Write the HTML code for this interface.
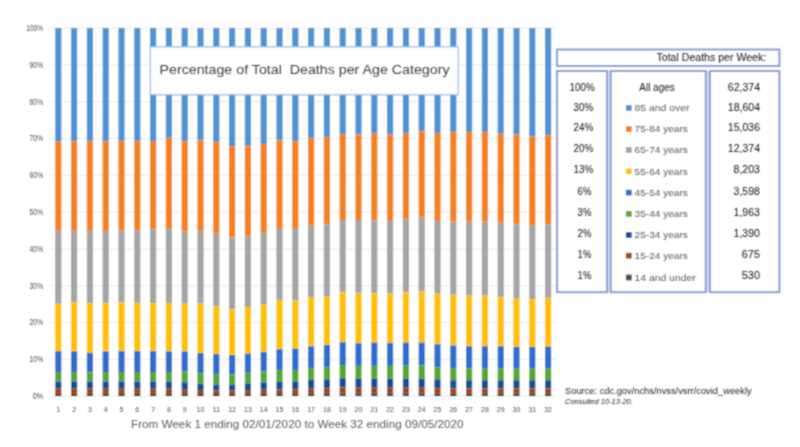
<!DOCTYPE html>
<html lang="en"><head><meta charset="utf-8"><title>Percentage of Total Deaths per Age Category</title>
<style>html,body{margin:0;padding:0;background:#fff;overflow:hidden}svg{display:block}text{font-family:"Liberation Sans",sans-serif}</style></head><body>
<svg width="800" height="447" viewBox="0 0 800 447">
<defs><filter id="soft" x="0" y="0" width="800" height="447" filterUnits="userSpaceOnUse"><feGaussianBlur stdDeviation="0.8"/></filter>
<filter id="tsoft" x="0" y="0" width="800" height="447" filterUnits="userSpaceOnUse"><feConvolveMatrix order="3" kernelMatrix="1 2 1 2 6 2 1 2 1" divisor="18" edgeMode="duplicate" preserveAlpha="false"/></filter></defs>
<rect x="0" y="0" width="800" height="447" fill="#ffffff"/>
<g filter="url(#tsoft)">
<rect x="-5" y="-5" width="810" height="457" fill="#ffffff"/>
<g stroke="#e6e6e6" stroke-width="0.9">
<line x1="50" y1="396.10" x2="556" y2="396.10"/>
<line x1="50" y1="359.29" x2="556" y2="359.29"/>
<line x1="50" y1="322.48" x2="556" y2="322.48"/>
<line x1="50" y1="285.67" x2="556" y2="285.67"/>
<line x1="50" y1="248.86" x2="556" y2="248.86"/>
<line x1="50" y1="212.05" x2="556" y2="212.05"/>
<line x1="50" y1="175.24" x2="556" y2="175.24"/>
<line x1="50" y1="138.43" x2="556" y2="138.43"/>
<line x1="50" y1="101.62" x2="556" y2="101.62"/>
<line x1="50" y1="64.81" x2="556" y2="64.81"/>
<line x1="50" y1="28.00" x2="556" y2="28.00"/>
</g>
<g>
<rect x="55.20" y="28.00" width="6.2" height="113.56" fill="#4f92d6"/>
<rect x="55.20" y="141.56" width="6.2" height="89.30" fill="#f4811f"/>
<rect x="55.20" y="230.86" width="6.2" height="72.91" fill="#a5a5a5"/>
<rect x="55.20" y="303.77" width="6.2" height="47.37" fill="#ffc000"/>
<rect x="55.20" y="351.14" width="6.2" height="20.84" fill="#2f6dd0"/>
<rect x="55.20" y="371.98" width="6.2" height="9.56" fill="#5aa530"/>
<rect x="55.20" y="381.54" width="6.2" height="7.17" fill="#0f4f98"/>
<rect x="55.20" y="388.70" width="6.2" height="5.14" fill="#a5450a"/>
<rect x="55.20" y="393.85" width="6.2" height="2.25" fill="#3d3530"/>
<rect x="71.00" y="28.00" width="6.2" height="113.19" fill="#4f92d6"/>
<rect x="71.00" y="141.19" width="6.2" height="89.67" fill="#f4811f"/>
<rect x="71.00" y="230.86" width="6.2" height="71.30" fill="#a5a5a5"/>
<rect x="71.00" y="302.16" width="6.2" height="49.24" fill="#ffc000"/>
<rect x="71.00" y="351.40" width="6.2" height="20.58" fill="#2f6dd0"/>
<rect x="71.00" y="371.98" width="6.2" height="9.56" fill="#5aa530"/>
<rect x="71.00" y="381.54" width="6.2" height="7.17" fill="#0f4f98"/>
<rect x="71.00" y="388.70" width="6.2" height="5.14" fill="#a5450a"/>
<rect x="71.00" y="393.85" width="6.2" height="2.25" fill="#3d3530"/>
<rect x="86.80" y="28.00" width="6.2" height="112.82" fill="#4f92d6"/>
<rect x="86.80" y="140.82" width="6.2" height="90.04" fill="#f4811f"/>
<rect x="86.80" y="230.86" width="6.2" height="72.40" fill="#a5a5a5"/>
<rect x="86.80" y="303.26" width="6.2" height="49.61" fill="#ffc000"/>
<rect x="86.80" y="352.87" width="6.2" height="19.66" fill="#2f6dd0"/>
<rect x="86.80" y="372.53" width="6.2" height="9.00" fill="#5aa530"/>
<rect x="86.80" y="381.54" width="6.2" height="7.17" fill="#0f4f98"/>
<rect x="86.80" y="388.70" width="6.2" height="5.14" fill="#a5450a"/>
<rect x="86.80" y="393.85" width="6.2" height="2.25" fill="#3d3530"/>
<rect x="102.60" y="28.00" width="6.2" height="113.19" fill="#4f92d6"/>
<rect x="102.60" y="141.19" width="6.2" height="89.67" fill="#f4811f"/>
<rect x="102.60" y="230.86" width="6.2" height="72.40" fill="#a5a5a5"/>
<rect x="102.60" y="303.26" width="6.2" height="48.14" fill="#ffc000"/>
<rect x="102.60" y="351.40" width="6.2" height="20.58" fill="#2f6dd0"/>
<rect x="102.60" y="371.98" width="6.2" height="9.56" fill="#5aa530"/>
<rect x="102.60" y="381.54" width="6.2" height="7.17" fill="#0f4f98"/>
<rect x="102.60" y="388.70" width="6.2" height="5.14" fill="#a5450a"/>
<rect x="102.60" y="393.85" width="6.2" height="2.25" fill="#3d3530"/>
<rect x="118.40" y="28.00" width="6.2" height="112.82" fill="#4f92d6"/>
<rect x="118.40" y="140.82" width="6.2" height="89.30" fill="#f4811f"/>
<rect x="118.40" y="230.12" width="6.2" height="72.40" fill="#a5a5a5"/>
<rect x="118.40" y="302.52" width="6.2" height="48.62" fill="#ffc000"/>
<rect x="118.40" y="351.14" width="6.2" height="20.84" fill="#2f6dd0"/>
<rect x="118.40" y="371.98" width="6.2" height="9.56" fill="#5aa530"/>
<rect x="118.40" y="381.54" width="6.2" height="7.17" fill="#0f4f98"/>
<rect x="118.40" y="388.70" width="6.2" height="5.14" fill="#a5450a"/>
<rect x="118.40" y="393.85" width="6.2" height="2.25" fill="#3d3530"/>
<rect x="134.20" y="28.00" width="6.2" height="112.82" fill="#4f92d6"/>
<rect x="134.20" y="140.82" width="6.2" height="89.30" fill="#f4811f"/>
<rect x="134.20" y="230.12" width="6.2" height="72.76" fill="#a5a5a5"/>
<rect x="134.20" y="302.89" width="6.2" height="48.25" fill="#ffc000"/>
<rect x="134.20" y="351.14" width="6.2" height="20.84" fill="#2f6dd0"/>
<rect x="134.20" y="371.98" width="6.2" height="9.56" fill="#5aa530"/>
<rect x="134.20" y="381.54" width="6.2" height="7.17" fill="#0f4f98"/>
<rect x="134.20" y="388.70" width="6.2" height="5.14" fill="#a5450a"/>
<rect x="134.20" y="393.85" width="6.2" height="2.25" fill="#3d3530"/>
<rect x="150.00" y="28.00" width="6.2" height="113.01" fill="#4f92d6"/>
<rect x="150.00" y="141.01" width="6.2" height="88.20" fill="#f4811f"/>
<rect x="150.00" y="229.21" width="6.2" height="74.05" fill="#a5a5a5"/>
<rect x="150.00" y="303.26" width="6.2" height="47.89" fill="#ffc000"/>
<rect x="150.00" y="351.14" width="6.2" height="20.84" fill="#2f6dd0"/>
<rect x="150.00" y="371.98" width="6.2" height="9.56" fill="#5aa530"/>
<rect x="150.00" y="381.54" width="6.2" height="7.17" fill="#0f4f98"/>
<rect x="150.00" y="388.70" width="6.2" height="5.14" fill="#a5450a"/>
<rect x="150.00" y="393.85" width="6.2" height="2.25" fill="#3d3530"/>
<rect x="165.80" y="28.00" width="6.2" height="109.88" fill="#4f92d6"/>
<rect x="165.80" y="137.88" width="6.2" height="91.32" fill="#f4811f"/>
<rect x="165.80" y="229.21" width="6.2" height="73.68" fill="#a5a5a5"/>
<rect x="165.80" y="302.89" width="6.2" height="48.51" fill="#ffc000"/>
<rect x="165.80" y="351.40" width="6.2" height="20.58" fill="#2f6dd0"/>
<rect x="165.80" y="371.98" width="6.2" height="9.56" fill="#5aa530"/>
<rect x="165.80" y="381.54" width="6.2" height="7.17" fill="#0f4f98"/>
<rect x="165.80" y="388.70" width="6.2" height="5.14" fill="#a5450a"/>
<rect x="165.80" y="393.85" width="6.2" height="2.25" fill="#3d3530"/>
<rect x="181.60" y="28.00" width="6.2" height="113.19" fill="#4f92d6"/>
<rect x="181.60" y="141.19" width="6.2" height="90.41" fill="#f4811f"/>
<rect x="181.60" y="231.59" width="6.2" height="72.03" fill="#a5a5a5"/>
<rect x="181.60" y="303.62" width="6.2" height="47.77" fill="#ffc000"/>
<rect x="181.60" y="351.40" width="6.2" height="20.21" fill="#2f6dd0"/>
<rect x="181.60" y="371.61" width="6.2" height="10.66" fill="#5aa530"/>
<rect x="181.60" y="382.27" width="6.2" height="7.53" fill="#0f4f98"/>
<rect x="181.60" y="389.80" width="6.2" height="4.04" fill="#a5450a"/>
<rect x="181.60" y="393.85" width="6.2" height="2.25" fill="#3d3530"/>
<rect x="197.40" y="28.00" width="6.2" height="112.27" fill="#4f92d6"/>
<rect x="197.40" y="140.27" width="6.2" height="90.59" fill="#f4811f"/>
<rect x="197.40" y="230.86" width="6.2" height="72.76" fill="#a5a5a5"/>
<rect x="197.40" y="303.62" width="6.2" height="49.43" fill="#ffc000"/>
<rect x="197.40" y="353.05" width="6.2" height="20.03" fill="#2f6dd0"/>
<rect x="197.40" y="373.08" width="6.2" height="10.66" fill="#5aa530"/>
<rect x="197.40" y="383.74" width="6.2" height="6.25" fill="#0f4f98"/>
<rect x="197.40" y="389.99" width="6.2" height="3.86" fill="#a5450a"/>
<rect x="197.40" y="393.85" width="6.2" height="2.25" fill="#3d3530"/>
<rect x="213.20" y="28.00" width="6.2" height="114.04" fill="#4f92d6"/>
<rect x="213.20" y="142.04" width="6.2" height="91.76" fill="#f4811f"/>
<rect x="213.20" y="233.80" width="6.2" height="72.76" fill="#a5a5a5"/>
<rect x="213.20" y="306.56" width="6.2" height="47.41" fill="#ffc000"/>
<rect x="213.20" y="353.97" width="6.2" height="20.03" fill="#2f6dd0"/>
<rect x="213.20" y="374.00" width="6.2" height="10.66" fill="#5aa530"/>
<rect x="213.20" y="384.66" width="6.2" height="5.88" fill="#0f4f98"/>
<rect x="213.20" y="390.54" width="6.2" height="3.31" fill="#a5450a"/>
<rect x="213.20" y="393.85" width="6.2" height="2.25" fill="#3d3530"/>
<rect x="229.00" y="28.00" width="6.2" height="118.11" fill="#4f92d6"/>
<rect x="229.00" y="146.11" width="6.2" height="91.36" fill="#f4811f"/>
<rect x="229.00" y="237.47" width="6.2" height="71.66" fill="#a5a5a5"/>
<rect x="229.00" y="309.14" width="6.2" height="45.94" fill="#ffc000"/>
<rect x="229.00" y="355.07" width="6.2" height="19.29" fill="#2f6dd0"/>
<rect x="229.00" y="374.37" width="6.2" height="10.29" fill="#5aa530"/>
<rect x="229.00" y="384.66" width="6.2" height="5.88" fill="#0f4f98"/>
<rect x="229.00" y="390.54" width="6.2" height="3.31" fill="#a5450a"/>
<rect x="229.00" y="393.85" width="6.2" height="2.25" fill="#3d3530"/>
<rect x="244.80" y="28.00" width="6.2" height="117.82" fill="#4f92d6"/>
<rect x="244.80" y="145.82" width="6.2" height="90.74" fill="#f4811f"/>
<rect x="244.80" y="236.56" width="6.2" height="70.49" fill="#a5a5a5"/>
<rect x="244.80" y="307.04" width="6.2" height="46.56" fill="#ffc000"/>
<rect x="244.80" y="353.61" width="6.2" height="19.11" fill="#2f6dd0"/>
<rect x="244.80" y="372.71" width="6.2" height="10.66" fill="#5aa530"/>
<rect x="244.80" y="383.37" width="6.2" height="6.62" fill="#0f4f98"/>
<rect x="244.80" y="389.99" width="6.2" height="3.86" fill="#a5450a"/>
<rect x="244.80" y="393.85" width="6.2" height="2.25" fill="#3d3530"/>
<rect x="260.60" y="28.00" width="6.2" height="116.02" fill="#4f92d6"/>
<rect x="260.60" y="144.02" width="6.2" height="88.68" fill="#f4811f"/>
<rect x="260.60" y="232.70" width="6.2" height="71.66" fill="#a5a5a5"/>
<rect x="260.60" y="304.36" width="6.2" height="47.59" fill="#ffc000"/>
<rect x="260.60" y="351.95" width="6.2" height="19.66" fill="#2f6dd0"/>
<rect x="260.60" y="371.61" width="6.2" height="10.84" fill="#5aa530"/>
<rect x="260.60" y="382.45" width="6.2" height="7.35" fill="#0f4f98"/>
<rect x="260.60" y="389.80" width="6.2" height="4.04" fill="#a5450a"/>
<rect x="260.60" y="393.85" width="6.2" height="2.25" fill="#3d3530"/>
<rect x="276.40" y="28.00" width="6.2" height="112.27" fill="#4f92d6"/>
<rect x="276.40" y="140.27" width="6.2" height="88.75" fill="#f4811f"/>
<rect x="276.40" y="229.02" width="6.2" height="70.93" fill="#a5a5a5"/>
<rect x="276.40" y="299.95" width="6.2" height="49.25" fill="#ffc000"/>
<rect x="276.40" y="349.19" width="6.2" height="20.76" fill="#2f6dd0"/>
<rect x="276.40" y="369.96" width="6.2" height="11.94" fill="#5aa530"/>
<rect x="276.40" y="381.90" width="6.2" height="7.72" fill="#0f4f98"/>
<rect x="276.40" y="389.62" width="6.2" height="4.23" fill="#a5450a"/>
<rect x="276.40" y="393.85" width="6.2" height="2.25" fill="#3d3530"/>
<rect x="292.20" y="28.00" width="6.2" height="113.19" fill="#4f92d6"/>
<rect x="292.20" y="141.19" width="6.2" height="87.83" fill="#f4811f"/>
<rect x="292.20" y="229.02" width="6.2" height="71.48" fill="#a5a5a5"/>
<rect x="292.20" y="300.50" width="6.2" height="48.14" fill="#ffc000"/>
<rect x="292.20" y="348.64" width="6.2" height="21.31" fill="#2f6dd0"/>
<rect x="292.20" y="369.96" width="6.2" height="11.39" fill="#5aa530"/>
<rect x="292.20" y="381.35" width="6.2" height="7.90" fill="#0f4f98"/>
<rect x="292.20" y="389.25" width="6.2" height="4.59" fill="#a5450a"/>
<rect x="292.20" y="393.85" width="6.2" height="2.25" fill="#3d3530"/>
<rect x="308.00" y="28.00" width="6.2" height="110.10" fill="#4f92d6"/>
<rect x="308.00" y="138.10" width="6.2" height="87.61" fill="#f4811f"/>
<rect x="308.00" y="225.72" width="6.2" height="71.29" fill="#a5a5a5"/>
<rect x="308.00" y="297.01" width="6.2" height="49.25" fill="#ffc000"/>
<rect x="308.00" y="346.25" width="6.2" height="21.68" fill="#2f6dd0"/>
<rect x="308.00" y="367.94" width="6.2" height="11.76" fill="#5aa530"/>
<rect x="308.00" y="379.70" width="6.2" height="9.00" fill="#0f4f98"/>
<rect x="308.00" y="388.70" width="6.2" height="4.78" fill="#a5450a"/>
<rect x="308.00" y="393.48" width="6.2" height="2.62" fill="#3d3530"/>
<rect x="323.80" y="28.00" width="6.2" height="108.96" fill="#4f92d6"/>
<rect x="323.80" y="136.96" width="6.2" height="87.46" fill="#f4811f"/>
<rect x="323.80" y="224.43" width="6.2" height="72.21" fill="#a5a5a5"/>
<rect x="323.80" y="296.64" width="6.2" height="48.33" fill="#ffc000"/>
<rect x="323.80" y="344.97" width="6.2" height="22.23" fill="#2f6dd0"/>
<rect x="323.80" y="367.20" width="6.2" height="12.13" fill="#5aa530"/>
<rect x="323.80" y="379.33" width="6.2" height="8.82" fill="#0f4f98"/>
<rect x="323.80" y="388.15" width="6.2" height="5.33" fill="#a5450a"/>
<rect x="323.80" y="393.48" width="6.2" height="2.62" fill="#3d3530"/>
<rect x="339.60" y="28.00" width="6.2" height="106.21" fill="#4f92d6"/>
<rect x="339.60" y="134.21" width="6.2" height="85.81" fill="#f4811f"/>
<rect x="339.60" y="220.02" width="6.2" height="72.21" fill="#a5a5a5"/>
<rect x="339.60" y="292.23" width="6.2" height="49.98" fill="#ffc000"/>
<rect x="339.60" y="342.21" width="6.2" height="22.79" fill="#2f6dd0"/>
<rect x="339.60" y="365.00" width="6.2" height="13.23" fill="#5aa530"/>
<rect x="339.60" y="378.23" width="6.2" height="9.19" fill="#0f4f98"/>
<rect x="339.60" y="387.42" width="6.2" height="6.06" fill="#a5450a"/>
<rect x="339.60" y="393.48" width="6.2" height="2.62" fill="#3d3530"/>
<rect x="355.40" y="28.00" width="6.2" height="106.57" fill="#4f92d6"/>
<rect x="355.40" y="134.57" width="6.2" height="85.44" fill="#f4811f"/>
<rect x="355.40" y="220.02" width="6.2" height="72.76" fill="#a5a5a5"/>
<rect x="355.40" y="292.78" width="6.2" height="50.53" fill="#ffc000"/>
<rect x="355.40" y="343.31" width="6.2" height="22.60" fill="#2f6dd0"/>
<rect x="355.40" y="365.92" width="6.2" height="12.68" fill="#5aa530"/>
<rect x="355.40" y="378.60" width="6.2" height="9.19" fill="#0f4f98"/>
<rect x="355.40" y="387.78" width="6.2" height="5.70" fill="#a5450a"/>
<rect x="355.40" y="393.48" width="6.2" height="2.62" fill="#3d3530"/>
<rect x="371.20" y="28.00" width="6.2" height="105.11" fill="#4f92d6"/>
<rect x="371.20" y="133.11" width="6.2" height="87.46" fill="#f4811f"/>
<rect x="371.20" y="220.57" width="6.2" height="72.77" fill="#a5a5a5"/>
<rect x="371.20" y="293.34" width="6.2" height="49.24" fill="#ffc000"/>
<rect x="371.20" y="342.58" width="6.2" height="23.34" fill="#2f6dd0"/>
<rect x="371.20" y="365.92" width="6.2" height="12.68" fill="#5aa530"/>
<rect x="371.20" y="378.60" width="6.2" height="9.19" fill="#0f4f98"/>
<rect x="371.20" y="387.78" width="6.2" height="5.70" fill="#a5450a"/>
<rect x="371.20" y="393.48" width="6.2" height="2.62" fill="#3d3530"/>
<rect x="387.00" y="28.00" width="6.2" height="106.57" fill="#4f92d6"/>
<rect x="387.00" y="134.57" width="6.2" height="86.36" fill="#f4811f"/>
<rect x="387.00" y="220.94" width="6.2" height="72.76" fill="#a5a5a5"/>
<rect x="387.00" y="293.70" width="6.2" height="49.25" fill="#ffc000"/>
<rect x="387.00" y="342.95" width="6.2" height="22.97" fill="#2f6dd0"/>
<rect x="387.00" y="365.92" width="6.2" height="12.68" fill="#5aa530"/>
<rect x="387.00" y="378.60" width="6.2" height="9.19" fill="#0f4f98"/>
<rect x="387.00" y="387.78" width="6.2" height="5.70" fill="#a5450a"/>
<rect x="387.00" y="393.48" width="6.2" height="2.62" fill="#3d3530"/>
<rect x="402.80" y="28.00" width="6.2" height="105.11" fill="#4f92d6"/>
<rect x="402.80" y="133.11" width="6.2" height="86.11" fill="#f4811f"/>
<rect x="402.80" y="219.21" width="6.2" height="73.02" fill="#a5a5a5"/>
<rect x="402.80" y="292.23" width="6.2" height="50.35" fill="#ffc000"/>
<rect x="402.80" y="342.58" width="6.2" height="23.15" fill="#2f6dd0"/>
<rect x="402.80" y="365.73" width="6.2" height="12.86" fill="#5aa530"/>
<rect x="402.80" y="378.60" width="6.2" height="9.19" fill="#0f4f98"/>
<rect x="402.80" y="387.78" width="6.2" height="5.70" fill="#a5450a"/>
<rect x="402.80" y="393.48" width="6.2" height="2.62" fill="#3d3530"/>
<rect x="418.60" y="28.00" width="6.2" height="103.27" fill="#4f92d6"/>
<rect x="418.60" y="131.27" width="6.2" height="86.00" fill="#f4811f"/>
<rect x="418.60" y="217.26" width="6.2" height="74.42" fill="#a5a5a5"/>
<rect x="418.60" y="291.68" width="6.2" height="50.90" fill="#ffc000"/>
<rect x="418.60" y="342.58" width="6.2" height="22.97" fill="#2f6dd0"/>
<rect x="418.60" y="365.55" width="6.2" height="13.05" fill="#5aa530"/>
<rect x="418.60" y="378.60" width="6.2" height="9.19" fill="#0f4f98"/>
<rect x="418.60" y="387.78" width="6.2" height="5.70" fill="#a5450a"/>
<rect x="418.60" y="393.48" width="6.2" height="2.62" fill="#3d3530"/>
<rect x="434.40" y="28.00" width="6.2" height="105.11" fill="#4f92d6"/>
<rect x="434.40" y="133.11" width="6.2" height="87.83" fill="#f4811f"/>
<rect x="434.40" y="220.94" width="6.2" height="72.76" fill="#a5a5a5"/>
<rect x="434.40" y="293.70" width="6.2" height="50.53" fill="#ffc000"/>
<rect x="434.40" y="344.23" width="6.2" height="22.97" fill="#2f6dd0"/>
<rect x="434.40" y="367.20" width="6.2" height="12.13" fill="#5aa530"/>
<rect x="434.40" y="379.33" width="6.2" height="8.82" fill="#0f4f98"/>
<rect x="434.40" y="388.15" width="6.2" height="5.51" fill="#a5450a"/>
<rect x="434.40" y="393.66" width="6.2" height="2.44" fill="#3d3530"/>
<rect x="450.20" y="28.00" width="6.2" height="104.00" fill="#4f92d6"/>
<rect x="450.20" y="132.00" width="6.2" height="89.67" fill="#f4811f"/>
<rect x="450.20" y="221.67" width="6.2" height="73.13" fill="#a5a5a5"/>
<rect x="450.20" y="294.81" width="6.2" height="50.71" fill="#ffc000"/>
<rect x="450.20" y="345.52" width="6.2" height="22.42" fill="#2f6dd0"/>
<rect x="450.20" y="367.94" width="6.2" height="12.31" fill="#5aa530"/>
<rect x="450.20" y="380.25" width="6.2" height="8.27" fill="#0f4f98"/>
<rect x="450.20" y="388.52" width="6.2" height="5.15" fill="#a5450a"/>
<rect x="450.20" y="393.66" width="6.2" height="2.44" fill="#3d3530"/>
<rect x="466.00" y="28.00" width="6.2" height="104.00" fill="#4f92d6"/>
<rect x="466.00" y="132.00" width="6.2" height="89.67" fill="#f4811f"/>
<rect x="466.00" y="221.67" width="6.2" height="73.87" fill="#a5a5a5"/>
<rect x="466.00" y="295.54" width="6.2" height="50.71" fill="#ffc000"/>
<rect x="466.00" y="346.25" width="6.2" height="22.05" fill="#2f6dd0"/>
<rect x="466.00" y="368.31" width="6.2" height="11.94" fill="#5aa530"/>
<rect x="466.00" y="380.25" width="6.2" height="8.27" fill="#0f4f98"/>
<rect x="466.00" y="388.52" width="6.2" height="5.15" fill="#a5450a"/>
<rect x="466.00" y="393.66" width="6.2" height="2.44" fill="#3d3530"/>
<rect x="481.80" y="28.00" width="6.2" height="104.00" fill="#4f92d6"/>
<rect x="481.80" y="132.00" width="6.2" height="89.67" fill="#f4811f"/>
<rect x="481.80" y="221.67" width="6.2" height="73.87" fill="#a5a5a5"/>
<rect x="481.80" y="295.54" width="6.2" height="50.71" fill="#ffc000"/>
<rect x="481.80" y="346.25" width="6.2" height="22.42" fill="#2f6dd0"/>
<rect x="481.80" y="368.67" width="6.2" height="11.58" fill="#5aa530"/>
<rect x="481.80" y="380.25" width="6.2" height="8.27" fill="#0f4f98"/>
<rect x="481.80" y="388.52" width="6.2" height="5.15" fill="#a5450a"/>
<rect x="481.80" y="393.66" width="6.2" height="2.44" fill="#3d3530"/>
<rect x="497.60" y="28.00" width="6.2" height="105.66" fill="#4f92d6"/>
<rect x="497.60" y="133.66" width="6.2" height="89.12" fill="#f4811f"/>
<rect x="497.60" y="222.78" width="6.2" height="74.60" fill="#a5a5a5"/>
<rect x="497.60" y="297.38" width="6.2" height="48.88" fill="#ffc000"/>
<rect x="497.60" y="346.25" width="6.2" height="22.42" fill="#2f6dd0"/>
<rect x="497.60" y="368.67" width="6.2" height="11.58" fill="#5aa530"/>
<rect x="497.60" y="380.25" width="6.2" height="8.27" fill="#0f4f98"/>
<rect x="497.60" y="388.52" width="6.2" height="5.15" fill="#a5450a"/>
<rect x="497.60" y="393.66" width="6.2" height="2.44" fill="#3d3530"/>
<rect x="513.40" y="28.00" width="6.2" height="106.57" fill="#4f92d6"/>
<rect x="513.40" y="134.57" width="6.2" height="89.67" fill="#f4811f"/>
<rect x="513.40" y="224.25" width="6.2" height="74.42" fill="#a5a5a5"/>
<rect x="513.40" y="298.66" width="6.2" height="48.33" fill="#ffc000"/>
<rect x="513.40" y="346.99" width="6.2" height="21.68" fill="#2f6dd0"/>
<rect x="513.40" y="368.67" width="6.2" height="11.58" fill="#5aa530"/>
<rect x="513.40" y="380.25" width="6.2" height="8.27" fill="#0f4f98"/>
<rect x="513.40" y="388.52" width="6.2" height="5.15" fill="#a5450a"/>
<rect x="513.40" y="393.66" width="6.2" height="2.44" fill="#3d3530"/>
<rect x="529.20" y="28.00" width="6.2" height="108.23" fill="#4f92d6"/>
<rect x="529.20" y="136.23" width="6.2" height="89.49" fill="#f4811f"/>
<rect x="529.20" y="225.72" width="6.2" height="73.32" fill="#a5a5a5"/>
<rect x="529.20" y="299.03" width="6.2" height="47.96" fill="#ffc000"/>
<rect x="529.20" y="346.99" width="6.2" height="21.68" fill="#2f6dd0"/>
<rect x="529.20" y="368.67" width="6.2" height="11.58" fill="#5aa530"/>
<rect x="529.20" y="380.25" width="6.2" height="8.27" fill="#0f4f98"/>
<rect x="529.20" y="388.52" width="6.2" height="5.15" fill="#a5450a"/>
<rect x="529.20" y="393.66" width="6.2" height="2.44" fill="#3d3530"/>
<rect x="545.00" y="28.00" width="6.2" height="107.31" fill="#4f92d6"/>
<rect x="545.00" y="135.31" width="6.2" height="89.30" fill="#f4811f"/>
<rect x="545.00" y="224.61" width="6.2" height="73.13" fill="#a5a5a5"/>
<rect x="545.00" y="297.75" width="6.2" height="48.88" fill="#ffc000"/>
<rect x="545.00" y="346.62" width="6.2" height="22.05" fill="#2f6dd0"/>
<rect x="545.00" y="368.67" width="6.2" height="11.58" fill="#5aa530"/>
<rect x="545.00" y="380.25" width="6.2" height="8.27" fill="#0f4f98"/>
<rect x="545.00" y="388.52" width="6.2" height="5.15" fill="#a5450a"/>
<rect x="545.00" y="393.66" width="6.2" height="2.44" fill="#3d3530"/>
</g>
<rect x="150.3" y="46.8" width="308" height="48" fill="#ffffff" stroke="#8fbae6" stroke-width="1.2"/>
<rect x="607.1" y="71" width="3.6" height="221.2" fill="#dbe3f6"/><rect x="705.8" y="71" width="4" height="221.2" fill="#dbe3f6"/>
<g fill="#ffffff" stroke="#7f94d0" stroke-width="1.9">
<rect x="557" y="49.5" width="222.4" height="16.5"/>
<rect x="557" y="71" width="50.1" height="221.2"/>
<rect x="610.7" y="71" width="95.1" height="221.2"/>
<rect x="709.8" y="71" width="69.6" height="221.2"/>
</g>
<rect x="625.9" y="105.0" width="5.8" height="5.8" fill="#4f92d6"/>
<rect x="625.9" y="126.1" width="5.8" height="5.8" fill="#f4811f"/>
<rect x="625.9" y="147.1" width="5.8" height="5.8" fill="#a5a5a5"/>
<rect x="625.9" y="168.4" width="5.8" height="5.8" fill="#ffc000"/>
<rect x="625.9" y="189.7" width="5.8" height="5.8" fill="#2f6dd0"/>
<rect x="625.9" y="211.0" width="5.8" height="5.8" fill="#5aa530"/>
<rect x="625.9" y="232.1" width="5.8" height="5.8" fill="#0f4f98"/>
<rect x="625.9" y="252.8" width="5.8" height="5.8" fill="#a5450a"/>
<rect x="625.9" y="274.6" width="5.8" height="5.8" fill="#4a4a4a"/>
</g>
<g filter="url(#tsoft)">
<g font-size="8.4" fill="#505050" text-anchor="end">
<text x="43.2" y="399.00" textLength="10.5" lengthAdjust="spacingAndGlyphs">0%</text>
<text x="43.2" y="362.19" textLength="13.6" lengthAdjust="spacingAndGlyphs">10%</text>
<text x="43.2" y="325.38" textLength="13.6" lengthAdjust="spacingAndGlyphs">20%</text>
<text x="43.2" y="288.57" textLength="13.6" lengthAdjust="spacingAndGlyphs">30%</text>
<text x="43.2" y="251.76" textLength="13.6" lengthAdjust="spacingAndGlyphs">40%</text>
<text x="43.2" y="214.95" textLength="13.6" lengthAdjust="spacingAndGlyphs">50%</text>
<text x="43.2" y="178.14" textLength="13.6" lengthAdjust="spacingAndGlyphs">60%</text>
<text x="43.2" y="141.33" textLength="13.6" lengthAdjust="spacingAndGlyphs">70%</text>
<text x="43.2" y="104.52" textLength="13.6" lengthAdjust="spacingAndGlyphs">80%</text>
<text x="43.2" y="67.71" textLength="13.6" lengthAdjust="spacingAndGlyphs">90%</text>
<text x="43.2" y="30.90" textLength="17" lengthAdjust="spacingAndGlyphs">100%</text>
</g>
<g font-size="7.9" fill="#505050" text-anchor="middle">
<text x="58.30" y="412.1" textLength="3.9" lengthAdjust="spacingAndGlyphs">1</text>
<text x="74.10" y="412.1" textLength="3.9" lengthAdjust="spacingAndGlyphs">2</text>
<text x="89.90" y="412.1" textLength="3.9" lengthAdjust="spacingAndGlyphs">3</text>
<text x="105.70" y="412.1" textLength="3.9" lengthAdjust="spacingAndGlyphs">4</text>
<text x="121.50" y="412.1" textLength="3.9" lengthAdjust="spacingAndGlyphs">5</text>
<text x="137.30" y="412.1" textLength="3.9" lengthAdjust="spacingAndGlyphs">6</text>
<text x="153.10" y="412.1" textLength="3.9" lengthAdjust="spacingAndGlyphs">7</text>
<text x="168.90" y="412.1" textLength="3.9" lengthAdjust="spacingAndGlyphs">8</text>
<text x="184.70" y="412.1" textLength="3.9" lengthAdjust="spacingAndGlyphs">9</text>
<text x="200.50" y="412.1" textLength="7.8" lengthAdjust="spacingAndGlyphs">10</text>
<text x="216.30" y="412.1" textLength="7.8" lengthAdjust="spacingAndGlyphs">11</text>
<text x="232.10" y="412.1" textLength="7.8" lengthAdjust="spacingAndGlyphs">12</text>
<text x="247.90" y="412.1" textLength="7.8" lengthAdjust="spacingAndGlyphs">13</text>
<text x="263.70" y="412.1" textLength="7.8" lengthAdjust="spacingAndGlyphs">14</text>
<text x="279.50" y="412.1" textLength="7.8" lengthAdjust="spacingAndGlyphs">15</text>
<text x="295.30" y="412.1" textLength="7.8" lengthAdjust="spacingAndGlyphs">16</text>
<text x="311.10" y="412.1" textLength="7.8" lengthAdjust="spacingAndGlyphs">17</text>
<text x="326.90" y="412.1" textLength="7.8" lengthAdjust="spacingAndGlyphs">18</text>
<text x="342.70" y="412.1" textLength="7.8" lengthAdjust="spacingAndGlyphs">19</text>
<text x="358.50" y="412.1" textLength="7.8" lengthAdjust="spacingAndGlyphs">20</text>
<text x="374.30" y="412.1" textLength="7.8" lengthAdjust="spacingAndGlyphs">21</text>
<text x="390.10" y="412.1" textLength="7.8" lengthAdjust="spacingAndGlyphs">22</text>
<text x="405.90" y="412.1" textLength="7.8" lengthAdjust="spacingAndGlyphs">23</text>
<text x="421.70" y="412.1" textLength="7.8" lengthAdjust="spacingAndGlyphs">24</text>
<text x="437.50" y="412.1" textLength="7.8" lengthAdjust="spacingAndGlyphs">25</text>
<text x="453.30" y="412.1" textLength="7.8" lengthAdjust="spacingAndGlyphs">26</text>
<text x="469.10" y="412.1" textLength="7.8" lengthAdjust="spacingAndGlyphs">27</text>
<text x="484.90" y="412.1" textLength="7.8" lengthAdjust="spacingAndGlyphs">28</text>
<text x="500.70" y="412.1" textLength="7.8" lengthAdjust="spacingAndGlyphs">29</text>
<text x="516.50" y="412.1" textLength="7.8" lengthAdjust="spacingAndGlyphs">30</text>
<text x="532.30" y="412.1" textLength="7.8" lengthAdjust="spacingAndGlyphs">31</text>
<text x="548.10" y="412.1" textLength="7.8" lengthAdjust="spacingAndGlyphs">32</text>
</g>
<text x="131" y="427.7" font-size="11.8" fill="#595959" textLength="332.5" lengthAdjust="spacingAndGlyphs">From Week 1 ending 02/01/2020 to Week 32 ending 09/05/2020</text>
<text x="159.5" y="74.4" font-size="13.4" fill="#404040" textLength="290" lengthAdjust="spacingAndGlyphs" xml:space="preserve">Percentage of Total  Deaths per Age Category</text>
<text x="656.5" y="61.2" font-size="10" fill="#111" textLength="109.7" lengthAdjust="spacingAndGlyphs">Total Deaths per Week:</text>
<g font-size="10" fill="#111">
<text x="582.1" y="90.7" text-anchor="middle" textLength="25.2" lengthAdjust="spacingAndGlyphs">100%</text>
<text x="760" y="90.7" text-anchor="end" textLength="32.2" lengthAdjust="spacingAndGlyphs">62,374</text>
<text x="583.4" y="111.1" text-anchor="middle" textLength="19.6" lengthAdjust="spacingAndGlyphs">30%</text>
<text x="760" y="111.1" text-anchor="end" textLength="32.2" lengthAdjust="spacingAndGlyphs">18,604</text>
<text x="583.4" y="130.7" text-anchor="middle" textLength="19.6" lengthAdjust="spacingAndGlyphs">24%</text>
<text x="760" y="130.7" text-anchor="end" textLength="32.2" lengthAdjust="spacingAndGlyphs">15,036</text>
<text x="583.4" y="151.8" text-anchor="middle" textLength="19.6" lengthAdjust="spacingAndGlyphs">20%</text>
<text x="760" y="151.8" text-anchor="end" textLength="32.2" lengthAdjust="spacingAndGlyphs">12,374</text>
<text x="583.4" y="173.1" text-anchor="middle" textLength="19.6" lengthAdjust="spacingAndGlyphs">13%</text>
<text x="760" y="173.1" text-anchor="end" textLength="26.5" lengthAdjust="spacingAndGlyphs">8,203</text>
<text x="584.5" y="194.8" text-anchor="middle" textLength="13.8" lengthAdjust="spacingAndGlyphs">6%</text>
<text x="760" y="194.8" text-anchor="end" textLength="26.5" lengthAdjust="spacingAndGlyphs">3,598</text>
<text x="584.5" y="215.7" text-anchor="middle" textLength="13.8" lengthAdjust="spacingAndGlyphs">3%</text>
<text x="760" y="215.7" text-anchor="end" textLength="26.5" lengthAdjust="spacingAndGlyphs">1,963</text>
<text x="584.5" y="237.1" text-anchor="middle" textLength="13.8" lengthAdjust="spacingAndGlyphs">2%</text>
<text x="760" y="237.1" text-anchor="end" textLength="26.5" lengthAdjust="spacingAndGlyphs">1,390</text>
<text x="584.5" y="257.7" text-anchor="middle" textLength="13.8" lengthAdjust="spacingAndGlyphs">1%</text>
<text x="760" y="257.7" text-anchor="end" textLength="18.2" lengthAdjust="spacingAndGlyphs">675</text>
<text x="584.5" y="278.8" text-anchor="middle" textLength="13.8" lengthAdjust="spacingAndGlyphs">1%</text>
<text x="760" y="278.8" text-anchor="end" textLength="18.2" lengthAdjust="spacingAndGlyphs">530</text>
</g>
<text x="657" y="90.6" font-size="10" fill="#111" text-anchor="middle" textLength="35.4" lengthAdjust="spacingAndGlyphs">All ages</text>
<g font-size="9.6" fill="#595959">
<text x="634.6" y="111.1" textLength="54.8" lengthAdjust="spacingAndGlyphs">85 and over</text>
<text x="634.6" y="132.2" textLength="53.2" lengthAdjust="spacingAndGlyphs">75-84 years</text>
<text x="634.6" y="153.2" textLength="53.2" lengthAdjust="spacingAndGlyphs">65-74 years</text>
<text x="634.6" y="174.5" textLength="53.2" lengthAdjust="spacingAndGlyphs">55-64 years</text>
<text x="634.6" y="195.8" textLength="53.2" lengthAdjust="spacingAndGlyphs">45-54 years</text>
<text x="634.6" y="217.1" textLength="53.2" lengthAdjust="spacingAndGlyphs">35-44 years</text>
<text x="634.6" y="238.2" textLength="53.2" lengthAdjust="spacingAndGlyphs">25-34 years</text>
<text x="634.6" y="258.9" textLength="53.2" lengthAdjust="spacingAndGlyphs">15-24 years</text>
<text x="634.6" y="280.7" textLength="61" lengthAdjust="spacingAndGlyphs">14 and under</text>
</g>
<text x="565" y="394.3" font-size="9.6" fill="#222" textLength="186.6" lengthAdjust="spacingAndGlyphs">Source: cdc.gov/nchs/nvss/vsrr/covid_weekly</text>
<text x="565" y="403.8" font-size="7.3" font-style="italic" fill="#222" textLength="67.8" lengthAdjust="spacingAndGlyphs">Consulted 10-13-20.</text>
</g>
</svg></body></html>
